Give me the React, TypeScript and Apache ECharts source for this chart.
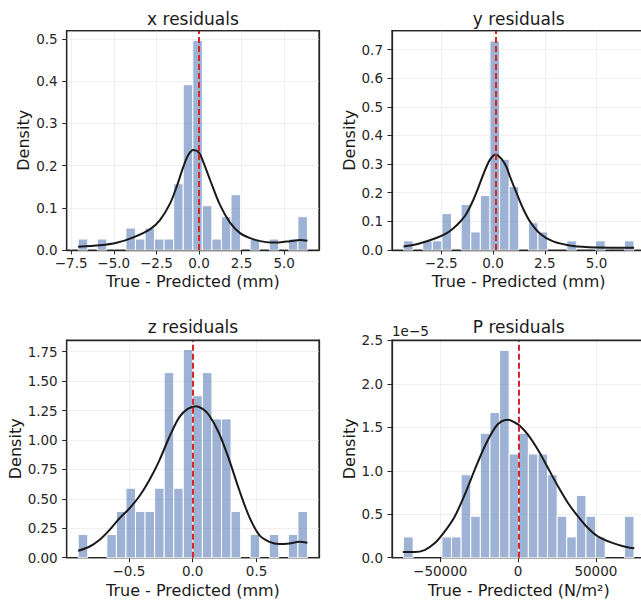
import React, { useEffect, useRef } from "react";
import * as echarts from "echarts";

const FONT = "'DejaVu Sans', 'Liberation Sans', sans-serif";
const MINUS = "\u2212";

// ---- x residuals ----
const xBinStart = -7.09;
const xBinWidth = 0.5605;
const xDensity = [0.026, 0, 0.026, 0, 0, 0.052, 0.026, 0.052, 0.026, 0.026, 0.157, 0.392, 0.497, 0.105, 0.026, 0.079, 0.131, 0, 0.026, 0, 0.026, 0, 0.026, 0.079];
const xKde = [[-7.09, 0.008], [-5.81, 0.011], [-4.83, 0.017], [-3.85, 0.03], [-2.88, 0.049], [-2.29, 0.071], [-1.7, 0.11], [-1.31, 0.15], [-0.92, 0.197], [-0.63, 0.225], [-0.33, 0.237], [0, 0.231], [0.25, 0.209], [0.65, 0.166], [1.23, 0.107], [1.82, 0.065], [2.41, 0.04], [3.0, 0.028], [3.6, 0.021], [4.2, 0.018], [4.7, 0.018], [5.34, 0.021], [5.93, 0.024], [6.36, 0.022]];
const xRef = 0;
const xTicks = [-7.5, -5, -2.5, 0, 2.5, 5];
const xYTicks = [0, 0.1, 0.2, 0.3, 0.4, 0.5];

// ---- y residuals ----
const yBinStart = -4.32;
const yBinWidth = 0.4636;
const yDensity = [0.032, 0, 0.032, 0.032, 0.127, 0, 0.159, 0.063, 0.19, 0.73, 0.317, 0.222, 0, 0.095, 0.063, 0, 0, 0.032, 0, 0, 0.032, 0, 0, 0.032];
const yKde = [[-4.32, 0.012], [-3.55, 0.023], [-2.74, 0.042], [-2.25, 0.058], [-1.94, 0.074], [-1.61, 0.097], [-1.3, 0.125], [-0.97, 0.172], [-0.7, 0.22], [-0.48, 0.262], [-0.16, 0.314], [0.13, 0.334], [0.41, 0.318], [0.65, 0.29], [0.81, 0.258], [1.13, 0.2], [1.45, 0.145], [1.78, 0.1], [2.26, 0.058], [2.9, 0.03], [3.86, 0.014], [5.0, 0.009], [6.81, 0.008]];
const yRef = 0.13;
const yTicks = [-2.5, 0, 2.5, 5];
const yYTicks = [0, 0.1, 0.2, 0.3, 0.4, 0.5, 0.6, 0.7];

// ---- z residuals ----
const zBinStart = -0.897;
const zBinWidth = 0.07483;
const zDensity = [0.197, 0, 0, 0.197, 0.393, 0.59, 0.393, 0.393, 0.59, 1.572, 0.59, 1.769, 1.376, 1.572, 1.179, 1.179, 0.393, 0, 0.197, 0, 0.197, 0, 0.197, 0.393];
const zKde = [[-0.897, 0.059], [-0.81, 0.093], [-0.731, 0.15], [-0.653, 0.234], [-0.575, 0.333], [-0.496, 0.418], [-0.418, 0.522], [-0.34, 0.658], [-0.261, 0.827], [-0.183, 1.025], [-0.105, 1.194], [-0.039, 1.264], [0.026, 1.287], [0.078, 1.264], [0.13, 1.208], [0.208, 1.053], [0.287, 0.827], [0.365, 0.573], [0.443, 0.347], [0.522, 0.192], [0.6, 0.135], [0.678, 0.116], [0.757, 0.121], [0.835, 0.135], [0.898, 0.127]];
const zRef = 0;
const zTicks = [-0.5, 0, 0.5];
const zYTicks = [0, 0.25, 0.5, 0.75, 1.0, 1.25, 1.5, 1.75];

// ---- P residuals (density in units of 1e-5) ----
const pBinStart = -73550;
const pBinWidth = 6167;
const pDensity = [0.239, 0, 0, 0, 0.239, 0.239, 0.954, 0.477, 1.431, 1.67, 2.385, 1.193, 1.431, 1.193, 1.193, 0.954, 0.477, 0.239, 0.716, 0.477, 0.239, 0, 0, 0.477];
const pKde = [[-74000, 0.065], [-66470, 0.065], [-60040, 0.088], [-53600, 0.165], [-47170, 0.3], [-40730, 0.472], [-34300, 0.722], [-27860, 1.01], [-21430, 1.279], [-14990, 1.49], [-10680, 1.567], [-6430, 1.586], [-2120, 1.555], [1090, 1.517], [6440, 1.413], [12870, 1.24], [19310, 1.029], [25740, 0.818], [32180, 0.626], [38610, 0.472], [45050, 0.338], [51480, 0.242], [60100, 0.173], [68660, 0.127], [74650, 0.108]];
const pRef = 600;
const pTicks = [-50000, 0, 50000];
const pYTicks = [0, 0.5, 1.0, 1.5, 2.0, 2.5];

const titles = ["x residuals", "y residuals", "z residuals", "P residuals"];
const xNames = ["True - Predicted (mm)", "True - Predicted (mm)", "True - Predicted (mm)", "True - Predicted (N/m\u00B2)"];

const fmt = (v: number, d: number) => (v < 0 ? MINUS : "") + Math.abs(v).toFixed(d);

export default function App() {
  const ref = useRef<HTMLDivElement>(null);
  useEffect(() => {
    const chart = echarts.init(ref.current!, null, { renderer: "svg", width: 641, height: 601 });
    const panels = [
      { start: xBinStart, w: xBinWidth, dens: xDensity, kde: xKde, refv: xRef, xt: xTicks, yt: xYTicks, xMin: -7.76, xMax: 7.04, yMax: 0.52, xd: 1, yd: 1, grid: { left: 66.7, top: 30.7, width: 252.3, height: 219.3 } },
      { start: yBinStart, w: yBinWidth, dens: yDensity, kde: yKde, refv: yRef, xt: yTicks, yt: yYTicks, xMin: -4.876, xMax: 7.36, yMax: 0.766, xd: 1, yd: 1, grid: { left: 392, top: 30.7, width: 253.5, height: 219.3 } },
      { start: zBinStart, w: zBinWidth, dens: zDensity, kde: zKde, refv: zRef, xt: zTicks, yt: zYTicks, xMin: -0.987, xMax: 0.989, yMax: 1.849, xd: 1, yd: 2, grid: { left: 66.7, top: 340, width: 252.3, height: 217.7 } },
      { start: pBinStart, w: pBinWidth, dens: pDensity, kde: pKde, refv: pRef, xt: pTicks, yt: pYTicks, xMin: -80950, xMax: 81850, yMax: 2.504, xd: 0, yd: 1, grid: { left: 392, top: 340, width: 253.5, height: 217.7 } },
    ];
    const axisColor = "#262626";
    const gridLine = { show: true, lineStyle: { color: "#ebebeb", width: 0.8 } };
    const grids: any[] = [];
    const xAxes: any[] = [];
    const yAxes: any[] = [];
    const series: any[] = [];
    panels.forEach((p, i) => {
      grids.push({ ...p.grid, show: true, borderColor: axisColor, borderWidth: 1.25, backgroundColor: "transparent", containLabel: false, outerBoundsMode: "none" });
      xAxes.push({
        type: "value", gridIndex: i, min: p.xMin, max: p.xMax,
        axisLine: { show: true, onZero: false, lineStyle: { color: axisColor, width: 1.25 } },
        axisTick: { show: true, length: 4.5, customValues: p.xt, lineStyle: { color: axisColor, width: 1 } },
        axisLabel: { customValues: p.xt, formatter: (v: number) => fmt(v, p.xd), fontFamily: FONT, fontSize: 13.5, color: axisColor, margin: 6 },
        splitLine: gridLine,
      });
      yAxes.push({
        type: "value", gridIndex: i, min: 0, max: p.yMax,
        axisLine: { show: true, onZero: false, lineStyle: { color: axisColor, width: 1.25 } },
        axisTick: { show: true, length: 4.5, customValues: p.yt, lineStyle: { color: axisColor, width: 1 } },
        axisLabel: { customValues: p.yt, formatter: (v: number) => fmt(v, p.yd), fontFamily: FONT, fontSize: 13.5, color: axisColor, margin: 9 },
        splitLine: gridLine,
      });
      // spine axes drawn above the bars
      xAxes.push({ type: "value", gridIndex: i, min: p.xMin, max: p.xMax, z: 10, axisLine: { show: true, onZero: false, lineStyle: { color: axisColor, width: 1.25 } }, axisTick: { show: false }, axisLabel: { show: false }, splitLine: { show: false } });
      yAxes.push({ type: "value", gridIndex: i, min: 0, max: p.yMax, z: 10, axisLine: { show: true, onZero: false, lineStyle: { color: axisColor, width: 1.25 } }, axisTick: { show: false }, axisLabel: { show: false }, splitLine: { show: false } });
      const bins = p.dens.map((h, k) => [p.start + k * p.w, p.start + (k + 1) * p.w, h]);
      series.push({
        type: "custom", coordinateSystem: "cartesian2d", xAxisIndex: 2 * i, yAxisIndex: 2 * i,
        data: bins, encode: { x: [0, 1], y: 2 }, z: 2,
        renderItem: (params: any, api: any) => {
          const h = api.value(2);
          if (!h) return null;
          const a = api.coord([api.value(0), h]);
          const b = api.coord([api.value(1), 0]);
          return { type: "rect", shape: { x: a[0], y: a[1], width: b[0] - a[0], height: b[1] - a[1] }, style: { fill: "rgba(76,114,176,0.55)", stroke: "#ffffff", lineWidth: 1 } };
        },
      });
      series.push({
        type: "line", xAxisIndex: 2 * i, yAxisIndex: 2 * i, data: p.kde, smooth: 0.3, symbol: "none", z: 3,
        lineStyle: { color: "#1a1a1a", width: 2 },
        markLine: { silent: true, symbol: ["none", "none"], label: { show: false }, lineStyle: { color: "#d62728", width: 2, type: [6, 3] }, data: [{ xAxis: p.refv }] },
      });
    });
    const txt = (text: string, x: number, y: number, size: number, extra: any = {}) => ({
      type: "text", x, y, z: 20, ...extra,
      style: { text, fontFamily: FONT, fontSize: size, fill: "#1a1a1a", textAlign: "center", textVerticalAlign: "middle", ...(extra.style || {}) },
    });
    const graphics: any[] = [
      txt(titles[0], 192.9, 19.4, 17),
      txt(titles[1], 518.7, 19.4, 17),
      txt(titles[2], 192.9, 327.4, 17),
      txt(titles[3], 518.7, 327.4, 17),
      txt(xNames[0], 192.9, 281.5, 16),
      txt(xNames[1], 518.7, 281.5, 16),
      txt(xNames[2], 192.9, 590.5, 16),
      txt(xNames[3], 518.7, 590.5, 16),
      txt("Density", 23.5, 140.3, 16, { rotation: Math.PI / 2 }),
      txt("Density", 349.5, 140.3, 16, { rotation: Math.PI / 2 }),
      txt("Density", 15.2, 448.8, 16, { rotation: Math.PI / 2 }),
      txt("Density", 349.5, 448.8, 16, { rotation: Math.PI / 2 }),
      txt("1e" + MINUS + "5", 392, 331.3, 13.5, { style: { textAlign: "left" } }),
    ];
    chart.setOption({
      animation: false,
      backgroundColor: "#ffffff",
      grid: grids,
      xAxis: xAxes,
      yAxis: yAxes,
      series,
      graphic: graphics,
    });
    return () => chart.dispose();
  }, []);
  return <div ref={ref} style={{ position: "fixed", left: 0, top: 0, width: 641, height: 601, background: "#fff" }} />;
}
